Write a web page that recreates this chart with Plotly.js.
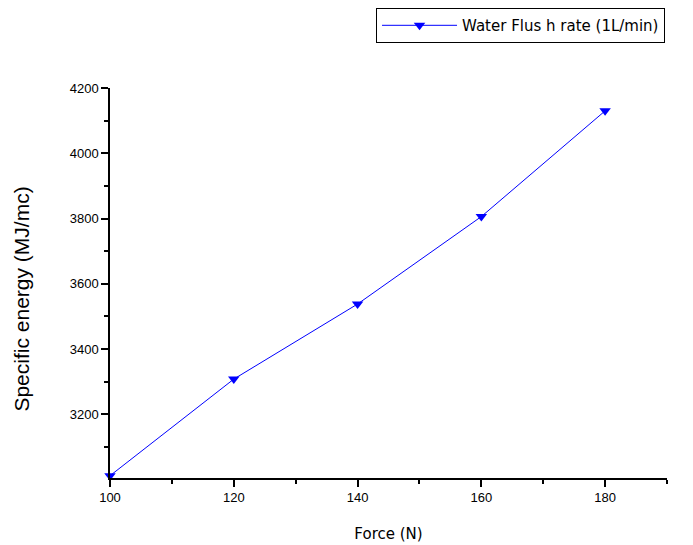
<!DOCTYPE html>
<html><head><meta charset="utf-8">
<script src="https://cdn.plot.ly/plotly-3.0.1.min.js"></script>
<style>body{margin:0;background:#fff}#c{width:693px;height:545px}</style>
</head><body><div id="c"></div>
<script>
const forceN = [100, 120, 140, 160, 180];
const specificEnergy = [3012, 3308, 3538, 3806, 4130];
const seriesName = 'Water Flus h rate (1L/min)';
const yTitle = 'Specific energy (MJ/mc)';

const font = 'Arial, "Liberation Sans", sans-serif';
Plotly.newPlot('c', [{
  x: forceN, y: specificEnergy, name: seriesName,
  type: 'scatter', mode: 'lines+markers',
  line: {color: '#0000ff', width: 1},
  marker: {symbol: 'triangle-down', size: 10, color: '#0000ff'},
  cliponaxis: false
}], {
  width: 693, height: 545,
  margin: {l: 110, r: 26, t: 88, b: 67, autoexpand: false},
  paper_bgcolor: '#fff', plot_bgcolor: '#fff',
  font: {family: font, color: '#000', size: 13},
  showlegend: true,
  legend: {x: 0.4776, xanchor: 'left', y: 1.205, yanchor: 'top',
    bordercolor: '#000', borderwidth: 1, itemwidth: 75,
    font: {size: 15, family: '"DejaVu Sans", sans-serif'}},
  annotations: [{text: yTitle, xref: 'paper', yref: 'paper', x: -0.158, y: 0.46,
    xanchor: 'center', yanchor: 'middle', textangle: -90, showarrow: false,
    font: {size: 21, family: font}}],
  xaxis: {range: [100, 190], tickvals: [100, 120, 140, 160, 180],
    ticks: 'outside', ticklen: 7, tickwidth: 1.5, tickcolor: '#000',
    minor: {dtick: 10, tick0: 100, ticks: 'outside', ticklen: 4, tickcolor: '#000'},
    showgrid: false, zeroline: false, showline: true, linecolor: '#000', linewidth: 1.5,
    title: {text: 'Force (N)', font: {size: 15, family: '"DejaVu Sans", sans-serif'}, standoff: 24}},
  yaxis: {range: [3005, 4200], tickvals: [3200, 3400, 3600, 3800, 4000, 4200],
    ticks: 'outside', ticklen: 7, tickwidth: 1.5, tickcolor: '#000',
    minor: {dtick: 100, tick0: 3000, ticks: 'outside', ticklen: 4, tickcolor: '#000'},
    showgrid: false, zeroline: false, showline: true, linecolor: '#000', linewidth: 1.5}
}, {displayModeBar: false});
</script></body></html>
